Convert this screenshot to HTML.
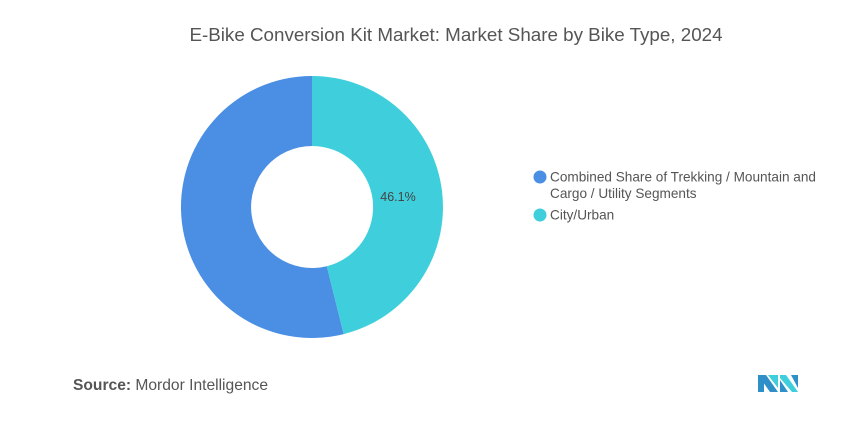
<!DOCTYPE html>
<html><head><meta charset="utf-8"><style>
html,body{margin:0;padding:0;background:#fff;}
svg{display:block;font-family:"Liberation Sans",sans-serif;}
</style></head><body>
<svg width="865" height="422" viewBox="0 0 865 422" xmlns="http://www.w3.org/2000/svg">
<rect width="865" height="422" fill="#fff"/>
<text x="456" y="41" text-anchor="middle" font-size="18.8" fill="#555">E-Bike Conversion Kit Market: Market Share by Bike Type, 2024</text>
<path d="M312 76 A131 131 0 1 0 343.7 334.1 L326.8 266.2 A61 61 0 1 1 312 146 Z" fill="#4a8fe3"/>
<path d="M312 76 A131 131 0 0 1 343.7 334.1 L326.8 266.2 A61 61 0 0 0 312 146 Z" fill="#3fcfdc"/>
<text x="398" y="201" text-anchor="middle" font-size="12.5" fill="#444">46.1%</text>
<circle cx="540" cy="177" r="6.5" fill="#4a8fe3"/>
<text x="550" y="181.5" font-size="13.6" fill="#555">Combined Share of Trekking / Mountain and</text>
<text x="550" y="198" font-size="13.6" fill="#555">Cargo / Utility Segments</text>
<circle cx="540" cy="215" r="6.5" fill="#3fcfdc"/>
<text x="550" y="219.5" font-size="13.6" fill="#555">City/Urban</text>
<text x="73" y="390" font-size="15.6" fill="#555"><tspan font-weight="bold">Source:</tspan>  Mordor Intelligence</text>
<g transform="translate(758,372)">
<polygon points="0,20 0,3 6,3 6,20" fill="#2f8fc8"/>
<polygon points="0,3 8,3 20,20 12,20" fill="#2f8fc8"/>
<polygon points="10,3 20,3 20,16" fill="#3fcfdc"/>
<polygon points="22,3 28,3 40,20 34,20 22,6" fill="#3fcfdc"/>
<polygon points="22,8 22,20 30,20" fill="#2f8fc8"/>
<polygon points="33,3 40,3 40,16" fill="#2f8fc8"/>
</g>
</svg>
</body></html>
